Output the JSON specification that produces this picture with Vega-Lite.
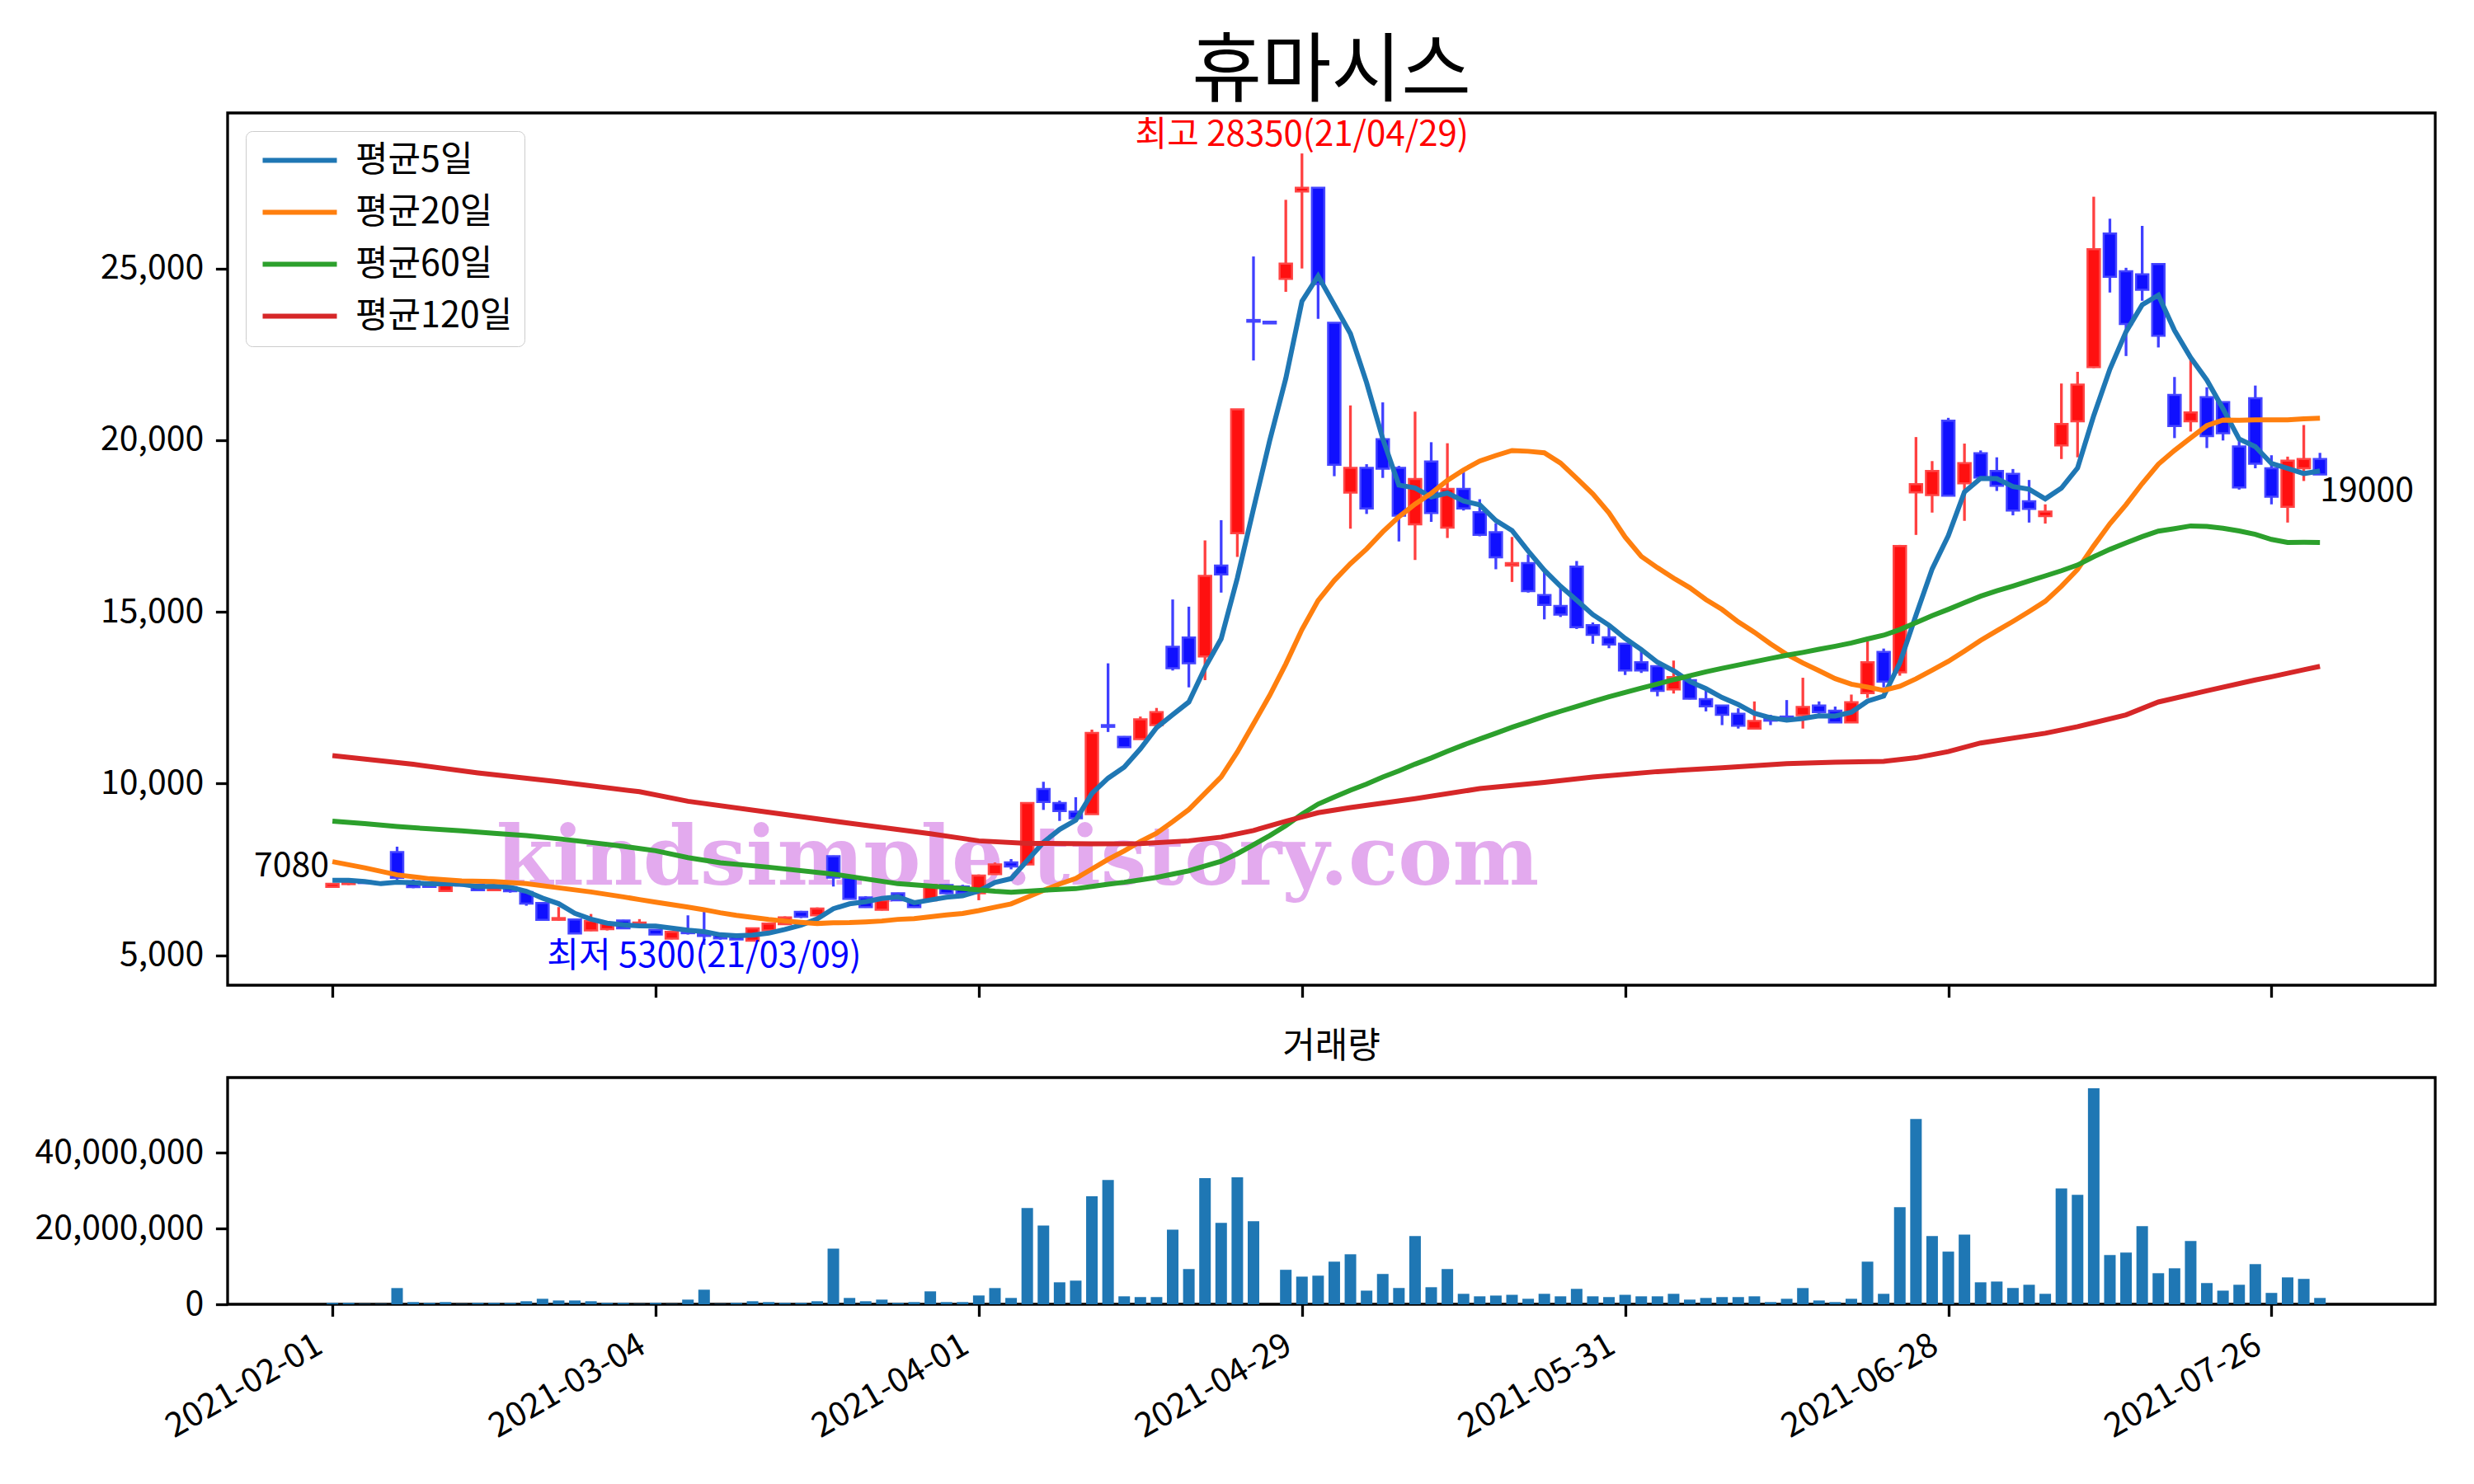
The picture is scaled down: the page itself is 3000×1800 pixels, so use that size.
{
  "$schema": "https://vega.github.io/schema/vega-lite/v6.json",
  "background": "white",
  "padding": {"left": 40, "top": 40, "right": 10, "bottom": 10},
  "config": {
    "font": "Noto Sans CJK KR",
    "view": {"stroke": "black", "strokeWidth": 3.3},
    "axis": {"labelFont": "Noto Sans CJK KR", "labelFontSize": 41, "labelColor": "black", "tickColor": "black", "tickWidth": 3.3, "tickSize": 14.6, "labelPadding": 14.6, "domain": false, "grid": false, "labelLimit": 500},
    "title": {"font": "Noto Sans CJK KR", "color": "black", "fontWeight": "normal"},
    "text": {"font": "Noto Sans CJK KR"},
    "concat": {"spacing": 34}
  },
  "datasets": {
    "ohlc": [
      {"i":0,"date":"2021-02-01","open":6990,"high":7100,"low":6960,"close":7080,"volume":360000},
      {"i":1,"date":"2021-02-02","open":7070,"high":7150,"low":7040,"close":7130,"volume":360000},
      {"i":2,"date":"2021-02-03","open":7150,"high":7180,"low":7090,"close":7100,"volume":100000},
      {"i":3,"date":"2021-02-04","open":7100,"high":7130,"low":7060,"close":7080,"volume":100000},
      {"i":4,"date":"2021-02-05","open":8000,"high":8160,"low":7200,"close":7250,"volume":4280000},
      {"i":5,"date":"2021-02-08","open":7150,"high":7200,"low":6950,"close":6980,"volume":580000},
      {"i":6,"date":"2021-02-09","open":7070,"high":7100,"low":6970,"close":6990,"volume":360000},
      {"i":7,"date":"2021-02-10","open":6870,"high":7090,"low":6850,"close":7080,"volume":580000},
      {"i":8,"date":"2021-02-15","open":7060,"high":7090,"low":7000,"close":7030,"volume":100000},
      {"i":9,"date":"2021-02-16","open":7050,"high":7060,"low":6870,"close":6890,"volume":360000},
      {"i":10,"date":"2021-02-17","open":6890,"high":7040,"low":6880,"close":7030,"volume":360000},
      {"i":11,"date":"2021-02-18","open":6980,"high":7000,"low":6820,"close":6860,"volume":360000},
      {"i":12,"date":"2021-02-19","open":6840,"high":6860,"low":6440,"close":6500,"volume":800000},
      {"i":13,"date":"2021-02-22","open":6520,"high":6530,"low":6000,"close":6030,"volume":1450000},
      {"i":14,"date":"2021-02-23","open":6030,"high":6400,"low":6000,"close":6080,"volume":1000000},
      {"i":15,"date":"2021-02-24","open":6040,"high":6060,"low":5620,"close":5630,"volume":1000000},
      {"i":16,"date":"2021-02-25","open":5720,"high":6200,"low":5700,"close":6000,"volume":800000},
      {"i":17,"date":"2021-02-26","open":5760,"high":5950,"low":5720,"close":5920,"volume":360000},
      {"i":18,"date":"2021-03-02","open":6010,"high":6030,"low":5770,"close":5780,"volume":360000},
      {"i":19,"date":"2021-03-03","open":5900,"high":6050,"low":5880,"close":5950,"volume":100000},
      {"i":20,"date":"2021-03-04","open":5740,"high":5760,"low":5590,"close":5600,"volume":360000},
      {"i":21,"date":"2021-03-05","open":5480,"high":5700,"low":5460,"close":5680,"volume":100000},
      {"i":22,"date":"2021-03-08","open":5660,"high":6160,"low":5600,"close":5640,"volume":1230000},
      {"i":23,"date":"2021-03-09","open":5620,"high":6300,"low":5300,"close":5560,"volume":3850000},
      {"i":24,"date":"2021-03-10","open":5600,"high":5620,"low":5450,"close":5490,"volume":100000},
      {"i":25,"date":"2021-03-11","open":5550,"high":5570,"low":5440,"close":5460,"volume":360000},
      {"i":26,"date":"2021-03-12","open":5420,"high":5800,"low":5400,"close":5780,"volume":800000},
      {"i":27,"date":"2021-03-15","open":5720,"high":5950,"low":5700,"close":5920,"volume":580000},
      {"i":28,"date":"2021-03-16","open":5900,"high":6130,"low":5880,"close":6100,"volume":360000},
      {"i":29,"date":"2021-03-17","open":6260,"high":6290,"low":6080,"close":6120,"volume":360000},
      {"i":30,"date":"2021-03-18","open":6160,"high":6390,"low":6140,"close":6360,"volume":800000},
      {"i":31,"date":"2021-03-19","open":7880,"high":7900,"low":7000,"close":7260,"volume":14700000},
      {"i":32,"date":"2021-03-22","open":7260,"high":7280,"low":6640,"close":6640,"volume":1670000},
      {"i":33,"date":"2021-03-23","open":6680,"high":6720,"low":6380,"close":6400,"volume":800000},
      {"i":34,"date":"2021-03-24","open":6320,"high":6620,"low":6300,"close":6600,"volume":1230000},
      {"i":35,"date":"2021-03-25","open":6800,"high":6820,"low":6580,"close":6600,"volume":360000},
      {"i":36,"date":"2021-03-26","open":6560,"high":6580,"low":6380,"close":6400,"volume":580000},
      {"i":37,"date":"2021-03-29","open":6600,"high":7080,"low":6580,"close":7040,"volume":3410000},
      {"i":38,"date":"2021-03-30","open":7040,"high":7060,"low":6780,"close":6800,"volume":580000},
      {"i":39,"date":"2021-03-31","open":7000,"high":7050,"low":6780,"close":6800,"volume":580000},
      {"i":40,"date":"2021-04-01","open":6800,"high":7350,"low":6600,"close":7320,"volume":2320000},
      {"i":41,"date":"2021-04-02","open":7360,"high":7700,"low":7340,"close":7640,"volume":4280000},
      {"i":42,"date":"2021-04-05","open":7700,"high":7800,"low":7500,"close":7580,"volume":1670000},
      {"i":43,"date":"2021-04-06","open":7640,"high":9450,"low":7620,"close":9430,"volume":25400000},
      {"i":44,"date":"2021-04-07","open":9840,"high":10050,"low":9230,"close":9460,"volume":20800000},
      {"i":45,"date":"2021-04-08","open":9430,"high":9500,"low":8910,"close":9200,"volume":5800000},
      {"i":46,"date":"2021-04-09","open":9180,"high":9600,"low":8910,"close":8990,"volume":6240000},
      {"i":47,"date":"2021-04-12","open":9110,"high":11570,"low":9100,"close":11470,"volume":28500000},
      {"i":48,"date":"2021-04-13","open":11700,"high":13500,"low":11500,"close":11650,"volume":32800000},
      {"i":49,"date":"2021-04-14","open":11360,"high":11380,"low":11040,"close":11060,"volume":2100000},
      {"i":50,"date":"2021-04-15","open":11290,"high":11950,"low":11280,"close":11870,"volume":1900000},
      {"i":51,"date":"2021-04-16","open":11700,"high":12200,"low":11690,"close":12080,"volume":1900000},
      {"i":52,"date":"2021-04-19","open":13980,"high":15360,"low":13290,"close":13360,"volume":19700000},
      {"i":53,"date":"2021-04-20","open":14250,"high":15150,"low":12800,"close":13500,"volume":9300000},
      {"i":54,"date":"2021-04-21","open":13700,"high":17080,"low":13010,"close":16050,"volume":33300000},
      {"i":55,"date":"2021-04-22","open":16350,"high":17670,"low":15560,"close":16090,"volume":21500000},
      {"i":56,"date":"2021-04-23","open":17290,"high":20900,"low":16600,"close":20900,"volume":33500000},
      {"i":57,"date":"2021-04-26","open":23500,"high":25350,"low":22320,"close":23450,"volume":21900000},
      {"i":58,"date":"2021-04-27","open":23450,"high":23450,"low":23400,"close":23400,"volume":0},
      {"i":59,"date":"2021-04-28","open":24700,"high":27000,"low":24320,"close":25140,"volume":9100000},
      {"i":60,"date":"2021-04-29","open":27240,"high":28350,"low":25000,"close":27350,"volume":7300000},
      {"i":61,"date":"2021-04-30","open":27350,"high":27350,"low":23530,"close":24550,"volume":7550000},
      {"i":62,"date":"2021-05-03","open":23420,"high":23420,"low":18950,"close":19280,"volume":11250000},
      {"i":63,"date":"2021-05-04","open":18470,"high":21010,"low":17420,"close":19190,"volume":13200000},
      {"i":64,"date":"2021-05-06","open":19190,"high":19300,"low":17850,"close":18010,"volume":3600000},
      {"i":65,"date":"2021-05-07","open":20030,"high":21100,"low":18900,"close":19170,"volume":8000000},
      {"i":66,"date":"2021-05-10","open":19190,"high":19250,"low":17050,"close":17800,"volume":4300000},
      {"i":67,"date":"2021-05-11","open":17550,"high":20830,"low":16510,"close":18870,"volume":18000000},
      {"i":68,"date":"2021-05-12","open":19380,"high":19940,"low":17620,"close":17880,"volume":4500000},
      {"i":69,"date":"2021-05-13","open":17450,"high":19910,"low":17150,"close":18580,"volume":9300000},
      {"i":70,"date":"2021-05-14","open":18580,"high":19080,"low":17950,"close":18010,"volume":2760000},
      {"i":71,"date":"2021-05-17","open":17900,"high":18280,"low":17200,"close":17240,"volume":2100000},
      {"i":72,"date":"2021-05-18","open":17320,"high":17580,"low":16240,"close":16590,"volume":2300000},
      {"i":73,"date":"2021-05-20","open":16350,"high":17180,"low":15870,"close":16420,"volume":2500000},
      {"i":74,"date":"2021-05-21","open":16420,"high":16670,"low":15560,"close":15600,"volume":1450000},
      {"i":75,"date":"2021-05-24","open":15490,"high":16240,"low":14780,"close":15200,"volume":2760000},
      {"i":76,"date":"2021-05-25","open":15170,"high":15710,"low":14850,"close":14920,"volume":2100000},
      {"i":77,"date":"2021-05-26","open":16320,"high":16480,"low":14500,"close":14550,"volume":4070000},
      {"i":78,"date":"2021-05-27","open":14610,"high":14690,"low":14070,"close":14330,"volume":2100000},
      {"i":79,"date":"2021-05-28","open":14260,"high":14570,"low":13940,"close":14050,"volume":1900000},
      {"i":80,"date":"2021-05-31","open":14070,"high":14070,"low":13160,"close":13290,"volume":2500000},
      {"i":81,"date":"2021-06-01","open":13530,"high":13880,"low":13220,"close":13290,"volume":2100000},
      {"i":82,"date":"2021-06-02","open":13420,"high":13420,"low":12540,"close":12700,"volume":2100000},
      {"i":83,"date":"2021-06-03","open":12740,"high":13580,"low":12620,"close":13100,"volume":2760000},
      {"i":84,"date":"2021-06-04","open":13010,"high":13100,"low":12450,"close":12470,"volume":1230000},
      {"i":85,"date":"2021-06-07","open":12460,"high":12720,"low":12100,"close":12250,"volume":1670000},
      {"i":86,"date":"2021-06-08","open":12270,"high":12270,"low":11700,"close":12000,"volume":1900000},
      {"i":87,"date":"2021-06-09","open":12030,"high":12190,"low":11600,"close":11680,"volume":1900000},
      {"i":88,"date":"2021-06-10","open":11600,"high":12390,"low":11580,"close":11820,"volume":2100000},
      {"i":89,"date":"2021-06-11","open":11880,"high":12000,"low":11700,"close":11830,"volume":580000},
      {"i":90,"date":"2021-06-14","open":11950,"high":12430,"low":11880,"close":11900,"volume":1450000},
      {"i":91,"date":"2021-06-15","open":11990,"high":13080,"low":11600,"close":12230,"volume":4280000},
      {"i":92,"date":"2021-06-16","open":12270,"high":12390,"low":12030,"close":12080,"volume":1000000},
      {"i":93,"date":"2021-06-17","open":12120,"high":12240,"low":11780,"close":11780,"volume":580000},
      {"i":94,"date":"2021-06-18","open":11780,"high":12590,"low":11760,"close":12370,"volume":1450000},
      {"i":95,"date":"2021-06-21","open":12630,"high":14140,"low":12490,"close":13530,"volume":11250000},
      {"i":96,"date":"2021-06-22","open":13830,"high":13930,"low":12800,"close":12970,"volume":2760000},
      {"i":97,"date":"2021-06-23","open":13240,"high":16950,"low":13140,"close":16920,"volume":25600000},
      {"i":98,"date":"2021-06-24","open":18480,"high":20090,"low":17240,"close":18720,"volume":48900000},
      {"i":99,"date":"2021-06-25","open":18400,"high":19390,"low":17890,"close":19100,"volume":18000000},
      {"i":100,"date":"2021-06-28","open":20570,"high":20650,"low":18380,"close":18380,"volume":13900000},
      {"i":101,"date":"2021-06-29","open":18740,"high":19900,"low":17650,"close":19330,"volume":18400000},
      {"i":102,"date":"2021-06-30","open":19620,"high":19700,"low":18850,"close":18910,"volume":5800000},
      {"i":103,"date":"2021-07-01","open":19100,"high":19500,"low":18520,"close":18670,"volume":6000000},
      {"i":104,"date":"2021-07-02","open":19020,"high":19160,"low":17810,"close":17950,"volume":4300000},
      {"i":105,"date":"2021-07-05","open":18220,"high":18840,"low":17600,"close":18000,"volume":5150000},
      {"i":106,"date":"2021-07-06","open":17790,"high":18130,"low":17570,"close":17920,"volume":2760000},
      {"i":107,"date":"2021-07-07","open":19850,"high":21650,"low":19450,"close":20470,"volume":30600000},
      {"i":108,"date":"2021-07-08","open":20550,"high":21990,"low":19500,"close":21620,"volume":28900000},
      {"i":109,"date":"2021-07-09","open":22130,"high":27090,"low":22100,"close":25560,"volume":57000000},
      {"i":110,"date":"2021-07-12","open":26020,"high":26450,"low":24300,"close":24760,"volume":13000000},
      {"i":111,"date":"2021-07-13","open":24920,"high":25020,"low":22450,"close":23380,"volume":13650000},
      {"i":112,"date":"2021-07-14","open":24830,"high":26240,"low":24060,"close":24380,"volume":20600000},
      {"i":113,"date":"2021-07-15","open":25130,"high":25130,"low":22700,"close":23040,"volume":8200000},
      {"i":114,"date":"2021-07-16","open":21320,"high":21840,"low":20060,"close":20410,"volume":9500000},
      {"i":115,"date":"2021-07-19","open":20550,"high":22340,"low":20250,"close":20810,"volume":16700000},
      {"i":116,"date":"2021-07-20","open":21250,"high":21540,"low":19770,"close":20120,"volume":5600000},
      {"i":117,"date":"2021-07-21","open":21110,"high":21120,"low":19990,"close":20200,"volume":3600000},
      {"i":118,"date":"2021-07-22","open":19820,"high":19990,"low":18560,"close":18620,"volume":5150000},
      {"i":119,"date":"2021-07-23","open":21220,"high":21590,"low":19180,"close":19310,"volume":10600000},
      {"i":120,"date":"2021-07-26","open":19180,"high":19560,"low":18130,"close":18350,"volume":3000000},
      {"i":121,"date":"2021-07-27","open":18060,"high":19520,"low":17600,"close":19400,"volume":7100000},
      {"i":122,"date":"2021-07-28","open":19180,"high":20440,"low":18810,"close":19450,"volume":6700000},
      {"i":123,"date":"2021-07-29","open":19450,"high":19630,"low":19000,"close":19000,"volume":1670000}
    ],
    "ma": [
      {"i":0,"ma":"평균5일","value":7178},{"i":1,"ma":"평균5일","value":7178},{"i":2,"ma":"평균5일","value":7146},{"i":3,"ma":"평균5일","value":7082},{"i":4,"ma":"평균5일","value":7128},{"i":5,"ma":"평균5일","value":7108},{"i":6,"ma":"평균5일","value":7080},{"i":7,"ma":"평균5일","value":7076},{"i":8,"ma":"평균5일","value":7066},{"i":9,"ma":"평균5일","value":6994},{"i":10,"ma":"평균5일","value":7004},{"i":11,"ma":"평균5일","value":6978},{"i":12,"ma":"평균5일","value":6862},{"i":13,"ma":"평균5일","value":6662},{"i":14,"ma":"평균5일","value":6500},{"i":15,"ma":"평균5일","value":6220},{"i":16,"ma":"평균5일","value":6048},{"i":17,"ma":"평균5일","value":5932},{"i":18,"ma":"평균5일","value":5882},{"i":19,"ma":"평균5일","value":5856},{"i":20,"ma":"평균5일","value":5850},{"i":21,"ma":"평균5일","value":5786},{"i":22,"ma":"평균5일","value":5730},{"i":23,"ma":"평균5일","value":5686},{"i":24,"ma":"평균5일","value":5594},{"i":25,"ma":"평균5일","value":5566},{"i":26,"ma":"평균5일","value":5586},{"i":27,"ma":"평균5일","value":5642},{"i":28,"ma":"평균5일","value":5750},{"i":29,"ma":"평균5일","value":5876},{"i":30,"ma":"평균5일","value":6056},{"i":31,"ma":"평균5일","value":6352},{"i":32,"ma":"평균5일","value":6496},{"i":33,"ma":"평균5일","value":6556},{"i":34,"ma":"평균5일","value":6652},{"i":35,"ma":"평균5일","value":6700},{"i":36,"ma":"평균5일","value":6528},{"i":37,"ma":"평균5일","value":6608},{"i":38,"ma":"평균5일","value":6688},{"i":39,"ma":"평균5일","value":6728},{"i":40,"ma":"평균5일","value":6872},{"i":41,"ma":"평균5일","value":7120},{"i":42,"ma":"평균5일","value":7228},{"i":43,"ma":"평균5일","value":7754},{"i":44,"ma":"평균5일","value":8286},{"i":45,"ma":"평균5일","value":8662},{"i":46,"ma":"평균5일","value":8932},{"i":47,"ma":"평균5일","value":9710},{"i":48,"ma":"평균5일","value":10154},{"i":49,"ma":"평균5일","value":10474},{"i":50,"ma":"평균5일","value":11008},{"i":51,"ma":"평균5일","value":11626},{"i":52,"ma":"평균5일","value":12004},{"i":53,"ma":"평균5일","value":12374},{"i":54,"ma":"평균5일","value":13372},{"i":55,"ma":"평균5일","value":14216},{"i":56,"ma":"평균5일","value":15980},{"i":57,"ma":"평균5일","value":17998},{"i":58,"ma":"평균5일","value":19978},{"i":59,"ma":"평균5일","value":21796},{"i":60,"ma":"평균5일","value":24048},{"i":61,"ma":"평균5일","value":24778},{"i":62,"ma":"평균5일","value":23944},{"i":63,"ma":"평균5일","value":23102},{"i":64,"ma":"평균5일","value":21676},{"i":65,"ma":"평균5일","value":20040},{"i":66,"ma":"평균5일","value":18690},{"i":67,"ma":"평균5일","value":18608},{"i":68,"ma":"평균5일","value":18346},{"i":69,"ma":"평균5일","value":18460},{"i":70,"ma":"평균5일","value":18228},{"i":71,"ma":"평균5일","value":18116},{"i":72,"ma":"평균5일","value":17660},{"i":73,"ma":"평균5일","value":17368},{"i":74,"ma":"평균5일","value":16772},{"i":75,"ma":"평균5일","value":16210},{"i":76,"ma":"평균5일","value":15746},{"i":77,"ma":"평균5일","value":15338},{"i":78,"ma":"평균5일","value":14920},{"i":79,"ma":"평균5일","value":14610},{"i":80,"ma":"평균5일","value":14228},{"i":81,"ma":"평균5일","value":13902},{"i":82,"ma":"평균5일","value":13532},{"i":83,"ma":"평균5일","value":13286},{"i":84,"ma":"평균5일","value":12970},{"i":85,"ma":"평균5일","value":12762},{"i":86,"ma":"평균5일","value":12504},{"i":87,"ma":"평균5일","value":12300},{"i":88,"ma":"평균5일","value":12044},{"i":89,"ma":"평균5일","value":11916},{"i":90,"ma":"평균5일","value":11846},{"i":91,"ma":"평균5일","value":11892},{"i":92,"ma":"평균5일","value":11972},{"i":93,"ma":"평균5일","value":11964},{"i":94,"ma":"평균5일","value":12072},{"i":95,"ma":"평균5일","value":12398},{"i":96,"ma":"평균5일","value":12546},{"i":97,"ma":"평균5일","value":13514},{"i":98,"ma":"평균5일","value":14902},{"i":99,"ma":"평균5일","value":16248},{"i":100,"ma":"평균5일","value":17218},{"i":101,"ma":"평균5일","value":18490},{"i":102,"ma":"평균5일","value":18888},{"i":103,"ma":"평균5일","value":18878},{"i":104,"ma":"평균5일","value":18648},{"i":105,"ma":"평균5일","value":18572},{"i":106,"ma":"평균5일","value":18290},{"i":107,"ma":"평균5일","value":18602},{"i":108,"ma":"평균5일","value":19192},{"i":109,"ma":"평균5일","value":20714},{"i":110,"ma":"평균5일","value":22066},{"i":111,"ma":"평균5일","value":23158},{"i":112,"ma":"평균5일","value":23940},{"i":113,"ma":"평균5일","value":24224},{"i":114,"ma":"평균5일","value":23194},{"i":115,"ma":"평균5일","value":22404},{"i":116,"ma":"평균5일","value":21752},{"i":117,"ma":"평균5일","value":20916},{"i":118,"ma":"평균5일","value":20032},{"i":119,"ma":"평균5일","value":19812},{"i":120,"ma":"평균5일","value":19320},{"i":121,"ma":"평균5일","value":19176},{"i":122,"ma":"평균5일","value":19026},{"i":123,"ma":"평균5일","value":19102},
      {"i":0,"ma":"평균20일","value":7723},{"i":2,"ma":"평균20일","value":7545},{"i":4,"ma":"평균20일","value":7339},{"i":6,"ma":"평균20일","value":7226},{"i":8,"ma":"평균20일","value":7161},{"i":10,"ma":"평균20일","value":7146},{"i":12,"ma":"평균20일","value":7082},{"i":14,"ma":"평균20일","value":6962},{"i":16,"ma":"평균20일","value":6841},{"i":18,"ma":"평균20일","value":6697},{"i":19,"ma":"평균20일","value":6620},{"i":20,"ma":"평균20일","value":6546},{"i":21,"ma":"평균20일","value":6473},{"i":22,"ma":"평균20일","value":6400},{"i":23,"ma":"평균20일","value":6324},{"i":24,"ma":"평균20일","value":6236},{"i":25,"ma":"평균20일","value":6160},{"i":26,"ma":"평균20일","value":6100},{"i":27,"ma":"평균20일","value":6042},{"i":28,"ma":"평균20일","value":5995},{"i":29,"ma":"평균20일","value":5957},{"i":30,"ma":"평균20일","value":5923},{"i":31,"ma":"평균20일","value":5943},{"i":32,"ma":"평균20일","value":5950},{"i":33,"ma":"평균20일","value":5969},{"i":34,"ma":"평균20일","value":5995},{"i":35,"ma":"평균20일","value":6043},{"i":36,"ma":"평균20일","value":6063},{"i":37,"ma":"평균20일","value":6119},{"i":38,"ma":"평균20일","value":6170},{"i":39,"ma":"평균20일","value":6213},{"i":40,"ma":"평균20일","value":6299},{"i":41,"ma":"평균20일","value":6397},{"i":42,"ma":"평균20일","value":6494},{"i":43,"ma":"평균20일","value":6687},{"i":44,"ma":"평균20일","value":6886},{"i":45,"ma":"평균20일","value":7073},{"i":46,"ma":"평균20일","value":7233},{"i":47,"ma":"평균20일","value":7511},{"i":48,"ma":"평균20일","value":7788},{"i":49,"ma":"평균20일","value":8035},{"i":50,"ma":"평균20일","value":8311},{"i":51,"ma":"평균20일","value":8552},{"i":52,"ma":"평균20일","value":8888},{"i":53,"ma":"평균20일","value":9243},{"i":54,"ma":"평균20일","value":9715},{"i":55,"ma":"평균20일","value":10190},{"i":56,"ma":"평균20일","value":10915},{"i":57,"ma":"평균20일","value":11735},{"i":58,"ma":"평균20일","value":12565},{"i":59,"ma":"평균20일","value":13482},{"i":60,"ma":"평균20일","value":14484},{"i":61,"ma":"평균20일","value":15329},{"i":62,"ma":"평균20일","value":15914},{"i":63,"ma":"평균20일","value":16402},{"i":64,"ma":"평균20일","value":16830},{"i":65,"ma":"평균20일","value":17328},{"i":66,"ma":"평균20일","value":17769},{"i":67,"ma":"평균20일","value":18139},{"i":68,"ma":"평균20일","value":18450},{"i":69,"ma":"평균20일","value":18826},{"i":70,"ma":"평균20일","value":19133},{"i":71,"ma":"평균20일","value":19391},{"i":72,"ma":"평균20일","value":19553},{"i":73,"ma":"평균20일","value":19699},{"i":74,"ma":"평균20일","value":19676},{"i":75,"ma":"평균20일","value":19632},{"i":76,"ma":"평균20일","value":19333},{"i":77,"ma":"평균20일","value":18888},{"i":78,"ma":"평균20일","value":18434},{"i":79,"ma":"평균20일","value":17880},{"i":80,"ma":"평균20일","value":17177},{"i":81,"ma":"평균20일","value":16614},{"i":82,"ma":"평균20일","value":16285},{"i":83,"ma":"평균20일","value":15980},{"i":84,"ma":"평균20일","value":15703},{"i":85,"ma":"평균20일","value":15357},{"i":86,"ma":"평균20일","value":15067},{"i":87,"ma":"평균20일","value":14708},{"i":88,"ma":"평균20일","value":14405},{"i":89,"ma":"평균20일","value":14067},{"i":90,"ma":"평균20일","value":13762},{"i":91,"ma":"평균20일","value":13511},{"i":92,"ma":"평균20일","value":13286},{"i":93,"ma":"평균20일","value":13054},{"i":94,"ma":"평균20일","value":12892},{"i":95,"ma":"평균20일","value":12809},{"i":96,"ma":"평균20일","value":12711},{"i":97,"ma":"평균20일","value":12830},{"i":98,"ma":"평균20일","value":13049},{"i":99,"ma":"평균20일","value":13302},{"i":100,"ma":"평균20일","value":13556},{"i":101,"ma":"평균20일","value":13858},{"i":102,"ma":"평균20일","value":14169},{"i":103,"ma":"평균20일","value":14447},{"i":104,"ma":"평균20일","value":14721},{"i":105,"ma":"평균20일","value":15009},{"i":106,"ma":"평균20일","value":15305},{"i":107,"ma":"평균20일","value":15744},{"i":108,"ma":"평균20일","value":16234},{"i":109,"ma":"평균20일","value":16921},{"i":110,"ma":"평균20일","value":17564},{"i":111,"ma":"평균20일","value":18121},{"i":112,"ma":"평균20일","value":18736},{"i":113,"ma":"평균20일","value":19299},{"i":114,"ma":"평균20일","value":19701},{"i":115,"ma":"평균20일","value":20065},{"i":116,"ma":"평균20일","value":20423},{"i":117,"ma":"평균20일","value":20587},{"i":118,"ma":"평균20일","value":20582},{"i":119,"ma":"평균20일","value":20592},{"i":120,"ma":"평균20일","value":20591},{"i":121,"ma":"평균20일","value":20594},{"i":122,"ma":"평균20일","value":20621},{"i":123,"ma":"평균20일","value":20638},
      {"i":0,"ma":"평균60일","value":8906},{"i":2,"ma":"평균60일","value":8830},{"i":4,"ma":"평균60일","value":8746},{"i":6,"ma":"평균60일","value":8680},{"i":8,"ma":"평균60일","value":8619},{"i":10,"ma":"평균60일","value":8550},{"i":12,"ma":"평균60일","value":8481},{"i":14,"ma":"평균60일","value":8390},{"i":16,"ma":"평균60일","value":8282},{"i":18,"ma":"평균60일","value":8170},{"i":20,"ma":"평균60일","value":8042},{"i":22,"ma":"평균60일","value":7840},{"i":24,"ma":"평균60일","value":7690},{"i":27,"ma":"평균60일","value":7562},{"i":31,"ma":"평균60일","value":7362},{"i":35,"ma":"평균60일","value":7082},{"i":39,"ma":"평균60일","value":6938},{"i":41,"ma":"평균60일","value":6860},{"i":42,"ma":"평균60일","value":6833},{"i":43,"ma":"평균60일","value":6862},{"i":44,"ma":"평균60일","value":6891},{"i":45,"ma":"평균60일","value":6916},{"i":46,"ma":"평균60일","value":6938},{"i":47,"ma":"평균60일","value":7001},{"i":48,"ma":"평균60일","value":7067},{"i":49,"ma":"평균60일","value":7123},{"i":50,"ma":"평균60일","value":7193},{"i":51,"ma":"평균60일","value":7266},{"i":52,"ma":"평균60일","value":7360},{"i":53,"ma":"평균60일","value":7457},{"i":54,"ma":"평균60일","value":7596},{"i":55,"ma":"평균60일","value":7736},{"i":56,"ma":"평균60일","value":7956},{"i":57,"ma":"평균60일","value":8218},{"i":58,"ma":"평균60일","value":8480},{"i":59,"ma":"평균60일","value":8771},{"i":60,"ma":"평균60일","value":9109},{"i":61,"ma":"평균60일","value":9400},{"i":62,"ma":"평균60일","value":9603},{"i":63,"ma":"평균60일","value":9804},{"i":64,"ma":"평균60일","value":9984},{"i":65,"ma":"평균60일","value":10187},{"i":66,"ma":"평균60일","value":10367},{"i":67,"ma":"평균60일","value":10564},{"i":68,"ma":"평균60일","value":10744},{"i":69,"ma":"평균60일","value":10939},{"i":70,"ma":"평균60일","value":11122},{"i":71,"ma":"평균60일","value":11295},{"i":72,"ma":"평균60일","value":11463},{"i":73,"ma":"평균60일","value":11637},{"i":74,"ma":"평균60일","value":11795},{"i":75,"ma":"평균60일","value":11955},{"i":76,"ma":"평균60일","value":12103},{"i":77,"ma":"평균60일","value":12247},{"i":78,"ma":"평균60일","value":12390},{"i":79,"ma":"평균60일","value":12525},{"i":80,"ma":"평균60일","value":12653},{"i":81,"ma":"평균60일","value":12780},{"i":82,"ma":"평균60일","value":12897},{"i":83,"ma":"평균60일","value":13023},{"i":84,"ma":"평균60일","value":13139},{"i":85,"ma":"평균60일","value":13253},{"i":86,"ma":"평균60일","value":13356},{"i":87,"ma":"평균60일","value":13452},{"i":88,"ma":"평균60일","value":13548},{"i":89,"ma":"평균60일","value":13643},{"i":90,"ma":"평균60일","value":13735},{"i":91,"ma":"평균60일","value":13818},{"i":92,"ma":"평균60일","value":13909},{"i":93,"ma":"평균60일","value":13998},{"i":94,"ma":"평균60일","value":14094},{"i":95,"ma":"평균60일","value":14210},{"i":96,"ma":"평균60일","value":14319},{"i":97,"ma":"평균60일","value":14484},{"i":98,"ma":"평균60일","value":14683},{"i":99,"ma":"평균60일","value":14888},{"i":100,"ma":"평균60일","value":15072},{"i":101,"ma":"평균60일","value":15267},{"i":102,"ma":"평균60일","value":15456},{"i":103,"ma":"평균60일","value":15610},{"i":104,"ma":"평균60일","value":15751},{"i":105,"ma":"평균60일","value":15898},{"i":106,"ma":"평균60일","value":16047},{"i":107,"ma":"평균60일","value":16197},{"i":108,"ma":"평균60일","value":16363},{"i":109,"ma":"평균60일","value":16604},{"i":110,"ma":"평균60일","value":16819},{"i":111,"ma":"평균60일","value":17008},{"i":112,"ma":"평균60일","value":17191},{"i":113,"ma":"평균60일","value":17350},{"i":114,"ma":"평균60일","value":17423},{"i":115,"ma":"평균60일","value":17502},{"i":116,"ma":"평균60일","value":17489},{"i":117,"ma":"평균60일","value":17435},{"i":118,"ma":"평균60일","value":17355},{"i":119,"ma":"평균60일","value":17258},{"i":120,"ma":"평균60일","value":17108},{"i":121,"ma":"평균60일","value":17022},{"i":122,"ma":"평균60일","value":17025},{"i":123,"ma":"평균60일","value":17021},
      {"i":0,"ma":"평균120일","value":10815},{"i":5,"ma":"평균120일","value":10560},{"i":9,"ma":"평균120일","value":10310},{"i":14,"ma":"평균120일","value":10050},{"i":19,"ma":"평균120일","value":9760},{"i":22,"ma":"평균120일","value":9483},{"i":27,"ma":"평균120일","value":9163},{"i":32,"ma":"평균120일","value":8842},{"i":37,"ma":"평균120일","value":8539},{"i":40,"ma":"평균120일","value":8330},{"i":43,"ma":"평균120일","value":8258},{"i":47,"ma":"평균120일","value":8245},{"i":50,"ma":"평균120일","value":8250},{"i":53,"ma":"평균120일","value":8330},{"i":55,"ma":"평균120일","value":8438},{"i":57,"ma":"평균120일","value":8630},{"i":59,"ma":"평균120일","value":8900},{"i":61,"ma":"평균120일","value":9150},{"i":63,"ma":"평균120일","value":9300},{"i":67,"ma":"평균120일","value":9560},{"i":71,"ma":"평균120일","value":9850},{"i":75,"ma":"평균120일","value":10030},{"i":78,"ma":"평균120일","value":10190},{"i":82,"ma":"평균120일","value":10347},{"i":86,"ma":"평균120일","value":10460},{"i":90,"ma":"평균120일","value":10580},{"i":93,"ma":"평균120일","value":10620},{"i":96,"ma":"평균120일","value":10645},{"i":98,"ma":"평균120일","value":10750},{"i":100,"ma":"평균120일","value":10930},{"i":102,"ma":"평균120일","value":11180},{"i":106,"ma":"평균120일","value":11463},{"i":108,"ma":"평균120일","value":11656},{"i":111,"ma":"평균120일","value":12000},{"i":113,"ma":"평균120일","value":12374},{"i":116,"ma":"평균120일","value":12700},{"i":119,"ma":"평균120일","value":13015},{"i":120,"ma":"평균120일","value":13108},{"i":121,"ma":"평균120일","value":13211},{"i":122,"ma":"평균120일","value":13314},{"i":123,"ma":"평균120일","value":13413}
    ]
  },
  "vconcat": [
    {
      "width": 2677,
      "height": 1058,
      "title": {"text": "휴마시스", "fontSize": 92, "offset": -71, "baseline": "alphabetic", "anchor": "middle", "frame": "group"},
      "layer": [
        {
          "data": {"values": [{"i": 42.4, "p": 7065, "label": "kindsimple.tistory.com"}]},
          "mark": {"type": "text", "font": "DejaVu Serif", "fontWeight": "bold", "fontSize": 99, "align": "center", "baseline": "alphabetic", "color": "#e3aaee"},
          "encoding": {
            "x": {"field": "i", "type": "quantitative", "scale": {"domain": [-6.233, 129.88], "nice": false, "zero": false}, "axis": {"values": [0, 20, 40, 60, 80, 100, 120], "labels": false, "title": null}},
            "y": {"field": "p", "type": "quantitative", "scale": {"domain": [4125, 29530], "nice": false, "zero": false}, "axis": {"values": [5000, 10000, 15000, 20000, 25000], "format": ",.0f", "title": null}},
            "text": {"field": "label"}
          }
        },
        {
          "data": {"name": "ohlc"},
          "mark": {"type": "rule", "strokeWidth": 3.3},
          "encoding": {
            "x": {"field": "i", "type": "quantitative", "scale": {"domain": [-6.233, 129.88], "nice": false, "zero": false}, "axis": {"values": [0, 20, 40, 60, 80, 100, 120], "labels": false, "title": null}},
            "y": {"field": "low", "type": "quantitative", "scale": {"domain": [4125, 29530], "nice": false, "zero": false}, "axis": {"values": [5000, 10000, 15000, 20000, 25000], "format": ",.0f", "title": null}},
            "y2": {"field": "high"},
            "color": {"condition": {"test": "datum.close >= datum.open", "value": "#ff4040"}, "value": "#4040ff"}
          }
        },
        {
          "data": {"name": "ohlc"},
          "mark": {"type": "bar", "size": 15, "strokeWidth": 2.5},
          "encoding": {
            "x": {"field": "i", "type": "quantitative", "scale": {"domain": [-6.233, 129.88], "nice": false, "zero": false}, "axis": {"values": [0, 20, 40, 60, 80, 100, 120], "labels": false, "title": null}},
            "y": {"field": "open", "type": "quantitative", "scale": {"domain": [4125, 29530], "nice": false, "zero": false}, "axis": {"values": [5000, 10000, 15000, 20000, 25000], "format": ",.0f", "title": null}},
            "y2": {"field": "close"},
            "fill": {"condition": {"test": "datum.close >= datum.open", "value": "#ff1010"}, "value": "#1010ff"},
            "stroke": {"condition": {"test": "datum.close >= datum.open", "value": "#ff4545"}, "value": "#4545ff"}
          }
        },
        {
          "data": {"name": "ma"},
          "mark": {"type": "line", "strokeWidth": 6},
          "encoding": {
            "x": {"field": "i", "type": "quantitative", "scale": {"domain": [-6.233, 129.88], "nice": false, "zero": false}, "axis": {"values": [0, 20, 40, 60, 80, 100, 120], "labels": false, "title": null}},
            "y": {"field": "value", "type": "quantitative", "scale": {"domain": [4125, 29530], "nice": false, "zero": false}, "axis": {"values": [5000, 10000, 15000, 20000, 25000], "format": ",.0f", "title": null}},
            "color": {
              "field": "ma", "type": "nominal",
              "scale": {"domain": ["평균5일", "평균20일", "평균60일", "평균120일"], "range": ["#1f77b4", "#ff7f0e", "#2ca02c", "#d62728"]},
              "legend": {"title": null, "orient": "none", "legendX": 22, "legendY": 22, "direction": "vertical", "symbolType": "M-1,0H5", "symbolSize": 900, "symbolStrokeWidth": 6, "labelFontSize": 43, "labelFont": "Noto Sans CJK KR", "labelColor": "black", "labelOffset": 76, "labelLimit": 500, "rowPadding": 19, "padding": 14, "strokeColor": "#cccccc", "fillColor": "white", "cornerRadius": 8}
            }
          }
        },
        {
          "data": {"values": [{"i": 60, "p": 28350, "label": "최고 28350(21/04/29)"}]},
          "mark": {"type": "text", "fontSize": 42, "align": "center", "baseline": "bottom", "color": "#ff0000"},
          "encoding": {
            "x": {"field": "i", "type": "quantitative", "scale": {"domain": [-6.233, 129.88], "nice": false, "zero": false}, "axis": {"values": [0, 20, 40, 60, 80, 100, 120], "labels": false, "title": null}},
            "y": {"field": "p", "type": "quantitative", "scale": {"domain": [4125, 29530], "nice": false, "zero": false}, "axis": {"values": [5000, 10000, 15000, 20000, 25000], "format": ",.0f", "title": null}},
            "text": {"field": "label"}
          }
        },
        {
          "data": {"values": [{"i": 23, "p": 5300, "label": "최저 5300(21/03/09)"}]},
          "mark": {"type": "text", "fontSize": 42, "align": "center", "baseline": "top", "dy": -6, "color": "#0000ff"},
          "encoding": {
            "x": {"field": "i", "type": "quantitative", "scale": {"domain": [-6.233, 129.88], "nice": false, "zero": false}, "axis": {"values": [0, 20, 40, 60, 80, 100, 120], "labels": false, "title": null}},
            "y": {"field": "p", "type": "quantitative", "scale": {"domain": [4125, 29530], "nice": false, "zero": false}, "axis": {"values": [5000, 10000, 15000, 20000, 25000], "format": ",.0f", "title": null}},
            "text": {"field": "label"}
          }
        },
        {
          "data": {"values": [{"i": 0, "p": 7080, "label": "7080"}]},
          "mark": {"type": "text", "fontSize": 41, "align": "right", "baseline": "bottom", "dx": -4, "color": "black"},
          "encoding": {
            "x": {"field": "i", "type": "quantitative", "scale": {"domain": [-6.233, 129.88], "nice": false, "zero": false}, "axis": {"values": [0, 20, 40, 60, 80, 100, 120], "labels": false, "title": null}},
            "y": {"field": "p", "type": "quantitative", "scale": {"domain": [4125, 29530], "nice": false, "zero": false}, "axis": {"values": [5000, 10000, 15000, 20000, 25000], "format": ",.0f", "title": null}},
            "text": {"field": "label"}
          }
        },
        {
          "data": {"values": [{"i": 123, "p": 19000, "label": "19000"}]},
          "mark": {"type": "text", "fontSize": 41, "align": "left", "baseline": "top", "color": "black"},
          "encoding": {
            "x": {"field": "i", "type": "quantitative", "scale": {"domain": [-6.233, 129.88], "nice": false, "zero": false}, "axis": {"values": [0, 20, 40, 60, 80, 100, 120], "labels": false, "title": null}},
            "y": {"field": "p", "type": "quantitative", "scale": {"domain": [4125, 29530], "nice": false, "zero": false}, "axis": {"values": [5000, 10000, 15000, 20000, 25000], "format": ",.0f", "title": null}},
            "text": {"field": "label"}
          }
        }
      ]
    },
    {
      "width": 2677,
      "height": 275,
      "title": {"text": "거래량", "fontSize": 43, "offset": -19, "baseline": "alphabetic", "anchor": "middle", "frame": "group"},
      "data": {"name": "ohlc"},
      "mark": {"type": "bar", "size": 14, "color": "#1f77b4"},
      "encoding": {
        "x": {"field": "i", "type": "quantitative", "scale": {"domain": [-6.233, 129.88], "nice": false, "zero": false},
              "axis": {"values": [0, 20, 40, 60, 80, 100, 120], "title": null, "labelAngle": -30, "labelAlign": "right", "labelBaseline": "top", "labelOffset": -26, "labelLimit": 500,
                       "labelExpr": "datum.value == 0 ? '2021-02-01' : datum.value == 20 ? '2021-03-04' : datum.value == 40 ? '2021-04-01' : datum.value == 60 ? '2021-04-29' : datum.value == 80 ? '2021-05-31' : datum.value == 100 ? '2021-06-28' : '2021-07-26'"}},
        "y": {"field": "volume", "type": "quantitative", "scale": {"domain": [0, 59850000], "nice": false, "zero": true}, "axis": {"values": [0, 20000000, 40000000], "format": ",.0f", "title": null}}
      }
    }
  ]
}
